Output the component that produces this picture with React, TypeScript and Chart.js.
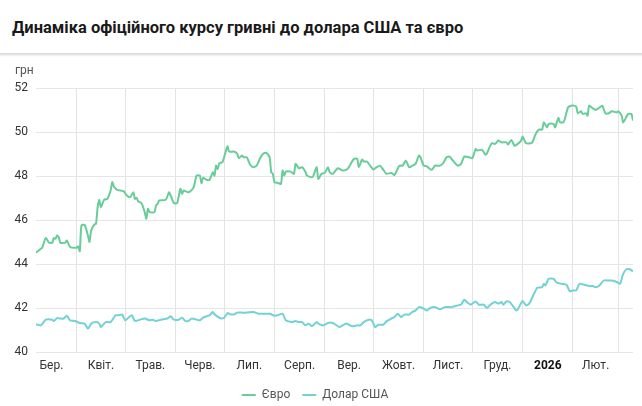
import React, { useEffect, useRef } from "react";
import Chart from "chart.js/auto";

// офіційний курс НБУ, грн за 1 одиницю валюти
const eurDates = [
  "2025-03-07", "2025-03-10", "2025-03-11", "2025-03-13", "2025-03-15", "2025-03-17", "2025-03-18", "2025-03-19",
  "2025-03-20", "2025-03-21", "2025-03-22", "2025-03-25", "2025-03-26", "2025-03-28", "2025-04-01", "2025-04-02",
  "2025-04-03", "2025-04-04", "2025-04-06", "2025-04-08", "2025-04-09", "2025-04-10", "2025-04-12", "2025-04-13",
  "2025-04-14", "2025-04-15", "2025-04-16", "2025-04-18", "2025-04-20", "2025-04-22", "2025-04-23", "2025-04-24",
  "2025-04-26", "2025-04-30", "2025-05-02", "2025-05-04", "2025-05-06", "2025-05-07", "2025-05-08", "2025-05-09",
  "2025-05-11", "2025-05-13", "2025-05-14", "2025-05-15", "2025-05-16", "2025-05-19", "2025-05-20", "2025-05-21",
  "2025-05-22", "2025-05-26", "2025-05-28", "2025-05-29", "2025-05-31", "2025-06-02", "2025-06-04", "2025-06-05",
  "2025-06-06", "2025-06-09", "2025-06-12", "2025-06-14", "2025-06-16", "2025-06-17", "2025-06-18", "2025-06-20",
  "2025-06-22", "2025-06-24", "2025-06-25", "2025-06-26", "2025-06-27", "2025-06-28", "2025-06-30", "2025-07-03",
  "2025-07-04", "2025-07-07", "2025-07-09", "2025-07-10", "2025-07-12", "2025-07-13", "2025-07-15", "2025-07-17",
  "2025-07-19", "2025-07-21", "2025-07-23", "2025-07-25", "2025-07-27", "2025-07-29", "2025-07-30", "2025-07-31",
  "2025-08-01", "2025-08-03", "2025-08-05", "2025-08-06", "2025-08-07", "2025-08-08", "2025-08-11", "2025-08-13",
  "2025-08-14", "2025-08-16", "2025-08-18", "2025-08-20", "2025-08-21", "2025-08-24", "2025-08-25", "2025-08-27",
  "2025-08-28", "2025-08-30", "2025-09-01", "2025-09-03", "2025-09-04", "2025-09-06", "2025-09-09", "2025-09-12",
  "2025-09-15", "2025-09-17", "2025-09-19", "2025-09-21", "2025-09-22", "2025-09-24", "2025-09-25", "2025-09-27",
  "2025-09-29", "2025-10-01", "2025-10-03", "2025-10-05", "2025-10-07", "2025-10-09", "2025-10-12", "2025-10-14",
  "2025-10-17", "2025-10-19", "2025-10-21", "2025-10-23", "2025-10-25", "2025-10-27", "2025-10-29", "2025-10-30",
  "2025-11-01", "2025-11-03", "2025-11-04", "2025-11-06", "2025-11-08", "2025-11-11", "2025-11-13", "2025-11-15",
  "2025-11-17", "2025-11-19", "2025-11-22", "2025-11-24", "2025-11-26", "2025-11-29", "2025-12-01", "2025-12-03",
  "2025-12-04", "2025-12-07", "2025-12-09", "2025-12-10", "2025-12-12", "2025-12-13", "2025-12-15", "2025-12-17",
  "2025-12-19", "2025-12-22", "2025-12-23", "2025-12-25", "2025-12-27", "2025-12-29", "2025-12-31", "2026-01-01",
  "2026-01-03", "2026-01-06", "2026-01-07", "2026-01-09", "2026-01-11", "2026-01-13", "2026-01-14", "2026-01-16",
  "2026-01-17", "2026-01-20", "2026-01-21", "2026-01-23", "2026-01-24", "2026-01-26", "2026-01-27", "2026-01-29",
  "2026-02-01", "2026-02-03", "2026-02-04", "2026-02-06", "2026-02-07", "2026-02-09", "2026-02-10", "2026-02-11",
  "2026-02-13", "2026-02-15", "2026-02-17", "2026-02-19", "2026-02-21", "2026-02-23", "2026-02-25", "2026-02-28",
  "2026-03-01", "2026-03-03", "2026-03-04", "2026-03-07", "2026-03-09", "2026-03-10",
];
const eurValues = [
  44.51, 44.69, 44.77, 45.18, 44.97, 44.97, 45.18, 45.15,
  45.3, 45.22, 44.97, 44.97, 45.07, 44.77, 44.74, 44.8,
  44.58, 45.75, 45.78, 45.3, 45.0, 45.52, 45.8, 45.83,
  46.58, 46.92, 46.58, 46.92, 46.96, 47.34, 47.72, 47.52,
  47.37, 47.31, 47.11, 47.04, 47.26, 46.96, 47.01, 46.85,
  46.77, 46.36, 46.06, 46.51, 46.36, 46.36, 46.66, 46.74,
  46.89, 46.92, 47.26, 47.11, 46.77, 46.77, 47.42, 47.19,
  47.34, 47.26, 47.46, 48.02, 48.02, 47.67, 47.92, 47.83,
  47.83, 48.17, 48.02, 48.47, 48.32, 48.58, 48.63, 49.35,
  49.11, 49.11, 49.01, 48.81, 48.93, 48.85, 48.85, 48.51,
  48.4, 48.47, 48.78, 49.01, 49.05, 48.85, 48.17, 48.1,
  47.72, 47.69, 47.64, 48.25, 48.02, 48.2, 48.2, 48.1,
  48.55, 48.35, 48.4, 48.2, 48.02, 47.94, 48.02, 48.4,
  47.87, 48.1, 48.14, 48.4, 48.17, 48.1, 48.35, 48.25,
  48.32, 48.55, 48.78, 48.78, 48.4, 48.75, 48.66, 48.66,
  48.47, 48.29, 48.4, 48.47, 48.29, 48.1, 48.14, 48.05,
  48.47, 48.47, 48.7, 48.4, 48.47, 48.55, 48.93, 48.85,
  48.47, 48.44, 48.37, 48.28, 48.47, 48.47, 48.58, 48.85,
  48.88, 48.7, 48.47, 48.55, 48.88, 48.85, 48.81, 49.23,
  49.16, 49.19, 48.97, 49.03, 49.38, 49.49, 49.46, 49.61,
  49.53, 49.53, 49.43, 49.64, 49.38, 49.46, 49.61, 49.79,
  49.49, 49.49, 49.53, 49.91, 50.11, 50.11, 50.44, 50.21,
  50.37, 50.37, 50.21, 50.64, 50.44, 50.44, 50.59, 51.12,
  51.2, 51.15, 50.85, 50.94, 50.82, 50.85, 50.74, 51.2,
  51.09, 51.0, 51.09, 51.2, 50.85, 50.85, 50.94, 50.89,
  50.94, 50.74, 50.44, 50.82, 50.82, 50.52,
];

const usdDates = [
  "2025-03-07", "2025-03-10", "2025-03-13", "2025-03-17", "2025-03-18", "2025-03-20", "2025-03-22", "2025-03-24",
  "2025-03-26", "2025-03-28", "2025-03-31", "2025-04-03", "2025-04-06", "2025-04-08", "2025-04-10", "2025-04-13",
  "2025-04-15", "2025-04-16", "2025-04-19", "2025-04-22", "2025-04-25", "2025-04-27", "2025-04-29", "2025-05-01",
  "2025-05-03", "2025-05-05", "2025-05-07", "2025-05-10", "2025-05-13", "2025-05-16", "2025-05-18", "2025-05-20",
  "2025-05-23", "2025-05-27", "2025-05-29", "2025-05-31", "2025-06-03", "2025-06-05", "2025-06-07", "2025-06-09",
  "2025-06-11", "2025-06-14", "2025-06-16", "2025-06-18", "2025-06-20", "2025-06-22", "2025-06-24", "2025-06-25",
  "2025-06-29", "2025-07-01", "2025-07-03", "2025-07-05", "2025-07-07", "2025-07-09", "2025-07-12", "2025-07-15",
  "2025-07-19", "2025-07-22", "2025-07-25", "2025-07-29", "2025-08-01", "2025-08-03", "2025-08-06", "2025-08-08",
  "2025-08-12", "2025-08-14", "2025-08-16", "2025-08-18", "2025-08-20", "2025-08-22", "2025-08-24", "2025-08-27",
  "2025-08-28", "2025-08-31", "2025-09-03", "2025-09-06", "2025-09-10", "2025-09-14", "2025-09-16", "2025-09-18",
  "2025-09-21", "2025-09-23", "2025-09-25", "2025-09-28", "2025-09-30", "2025-10-02", "2025-10-04", "2025-10-07",
  "2025-10-09", "2025-10-12", "2025-10-14", "2025-10-16", "2025-10-18", "2025-10-20", "2025-10-23", "2025-10-25",
  "2025-10-27", "2025-10-29", "2025-11-01", "2025-11-03", "2025-11-05", "2025-11-08", "2025-11-11", "2025-11-14",
  "2025-11-18", "2025-11-22", "2025-11-24", "2025-11-25", "2025-11-26", "2025-11-28", "2025-11-30", "2025-12-03",
  "2025-12-05", "2025-12-08", "2025-12-10", "2025-12-12", "2025-12-15", "2025-12-17", "2025-12-19", "2025-12-20",
  "2025-12-22", "2025-12-24", "2025-12-26", "2025-12-28", "2025-12-29", "2026-01-01", "2026-01-03", "2026-01-05",
  "2026-01-08", "2026-01-10", "2026-01-13", "2026-01-14", "2026-01-15", "2026-01-17", "2026-01-20", "2026-01-22",
  "2026-01-25", "2026-01-28", "2026-01-30", "2026-02-01", "2026-02-03", "2026-02-05", "2026-02-08", "2026-02-11",
  "2026-02-13", "2026-02-15", "2026-02-17", "2026-02-20", "2026-02-23", "2026-02-25", "2026-02-28", "2026-03-02",
  "2026-03-04", "2026-03-06", "2026-03-08", "2026-03-10",
];
const usdValues = [
  41.26, 41.21, 41.47, 41.47, 41.41, 41.54, 41.52, 41.52,
  41.65, 41.44, 41.41, 41.32, 41.29, 41.06, 41.29, 41.36,
  41.29, 41.13, 41.36, 41.36, 41.67, 41.67, 41.71, 41.44,
  41.56, 41.67, 41.41, 41.47, 41.52, 41.44, 41.47, 41.41,
  41.47, 41.52, 41.62, 41.47, 41.47, 41.56, 41.41, 41.41,
  41.52, 41.47, 41.44, 41.56, 41.62, 41.67, 41.82, 41.71,
  41.52, 41.56, 41.77, 41.71, 41.71, 41.79, 41.79, 41.79,
  41.82, 41.74, 41.74, 41.74, 41.65, 41.67, 41.74, 41.44,
  41.36, 41.41, 41.36, 41.36, 41.21, 41.29, 41.18, 41.36,
  41.29, 41.21, 41.32, 41.32, 41.13, 41.29, 41.24, 41.17,
  41.21, 41.21, 41.36, 41.47, 41.44, 41.13, 41.24, 41.24,
  41.39, 41.52, 41.59, 41.74, 41.59, 41.7, 41.7, 41.82,
  41.89, 42.04, 41.97, 41.89, 42.0, 42.04, 41.94, 42.04,
  42.04, 42.12, 42.15, 42.27, 42.38, 42.24, 42.15, 42.3,
  42.15, 42.15, 42.0, 42.15, 42.27, 42.2, 42.27, 42.15,
  42.3, 42.27, 42.09, 41.89, 41.94, 42.32, 42.12, 42.2,
  42.65, 42.92, 42.95, 43.1, 43.03, 43.33, 43.33, 43.15,
  43.1, 43.06, 42.76, 42.8, 42.8, 43.1, 43.06, 43.0,
  43.0, 42.95, 43.0, 43.25, 43.25, 43.25, 43.18, 43.1,
  43.56, 43.76, 43.76, 43.66,
];

const rangeStart = "2025-03-07";
const rangeEnd = "2026-03-10";
const monthStarts = [
  "2025-03-01", "2025-04-01", "2025-05-01", "2025-06-01", "2025-07-01", "2025-08-01", "2025-09-01",
  "2025-10-01", "2025-11-01", "2025-12-01", "2026-01-01", "2026-02-01", "2026-03-01",
];
const monthLabels = ["Бер.", "Квіт.", "Трав.", "Черв.", "Лип.", "Серп.", "Вер.", "Жовт.", "Лист.", "Груд.", "2026", "Лют."];
const yTicks = [40, 42, 44, 46, 48, 50, 52];

const EUR_COLOR = "#68cd98";
const USD_COLOR = "#72d2d4";
const FONT = "Roboto, 'Noto Sans', sans-serif";

const toDay = (s: string) => {
  const [y, m, d] = s.split("-").map(Number);
  return Date.UTC(y, m - 1, d) / 86400000;
};

const minDay = toDay(rangeStart);
const maxDay = toDay(rangeEnd);

// month boundaries get a grid line, the middle of each month gets the label
const gridDays = monthStarts.map(toDay).filter((d) => d > minDay && d < maxDay);
const labelByDay = new Map<number, string>();
monthLabels.forEach((label, i) => {
  const mid = (toDay(monthStarts[i]) + toDay(monthStarts[i + 1])) / 2;
  labelByDay.set(mid, label);
});
const xTicks = [...gridDays, ...labelByDay.keys()].sort((a, b) => a - b);

const unitLabel = {
  id: "unitLabel",
  afterDraw(chart: any) {
    const { ctx, chartArea } = chart;
    ctx.save();
    ctx.font = `12px ${FONT}`;
    ctx.fillStyle = "#555";
    ctx.textBaseline = "middle";
    ctx.textAlign = "left";
    ctx.fillText("грн", 15, chartArea.top - 17);
    ctx.restore();
  },
};

function RateChart() {
  const canvasRef = useRef<HTMLCanvasElement>(null);

  useEffect(() => {
    const chart = new Chart(canvasRef.current!, {
      type: "line",
      data: {
        datasets: [
          {
            label: "Євро",
            data: eurDates.map((d, i) => ({ x: toDay(d), y: eurValues[i] })),
            borderColor: EUR_COLOR,
            backgroundColor: EUR_COLOR,
            borderWidth: 2,
            pointRadius: 0,
            tension: 0.2,
          },
          {
            label: "Долар США",
            data: usdDates.map((d, i) => ({ x: toDay(d), y: usdValues[i] })),
            borderColor: USD_COLOR,
            backgroundColor: USD_COLOR,
            borderWidth: 2,
            pointRadius: 0,
            tension: 0.2,
          },
        ],
      },
      options: {
        animation: false,
        responsive: true,
        maintainAspectRatio: false,
        layout: { padding: { left: -3, right: 9, top: 32, bottom: -5 } },
        scales: {
          x: {
            type: "linear",
            min: minDay,
            max: maxDay,
            afterBuildTicks: (scale: any) => {
              scale.ticks = xTicks.map((v) => ({ value: v }));
            },
            afterFit: (scale: any) => {
              scale.height = 25;
            },
            border: { display: false },
            grid: {
              drawTicks: false,
              color: (ctx: any) => (ctx.tick && labelByDay.has(ctx.tick.value) ? "rgba(0,0,0,0)" : "#e3e3e3"),
            },
            ticks: {
              autoSkip: false,
              maxRotation: 0,
              padding: 7,
              color: (ctx: any) => (ctx.tick && labelByDay.get(ctx.tick.value) === "2026" ? "#111" : "#333"),
              font: (ctx: any) => ({
                family: FONT,
                size: 12,
                weight: ctx.tick && labelByDay.get(ctx.tick.value) === "2026" ? "bold" : "normal",
              }),
              callback: (value: any) => labelByDay.get(value) ?? "",
            },
          },
          y: {
            min: 40,
            max: 52,
            afterBuildTicks: (scale: any) => {
              scale.ticks = yTicks.map((v) => ({ value: v }));
            },
            afterFit: (scale: any) => {
              scale.width = 39;
            },
            border: { display: false },
            grid: { drawTicks: false, color: "#e6e6e6" },
            ticks: {
              padding: 8,
              color: "#333",
              font: { family: FONT, size: 12 },
            },
          },
        },
        plugins: {
          legend: {
            position: "bottom",
            labels: {
              usePointStyle: true,
              pointStyle: "line",
              pointStyleWidth: 14,
              padding: 12,
              color: "#555",
              font: { family: FONT, size: 12 },
            },
          },
          tooltip: { enabled: false },
        },
      },
      plugins: [unitLabel],
    } as any);

    return () => {
      chart.destroy();
    };
  }, []);

  return <canvas ref={canvasRef} />;
}

export default function App() {
  useEffect(() => {
    document.body.style.margin = "0";
  }, []);

  return (
    <div style={{ position: "relative", width: 642, height: 406, background: "#fff", overflow: "hidden", fontFamily: FONT }}>
      <div
        style={{
          position: "absolute",
          left: 12,
          top: 18,
          fontSize: 16.5,
          lineHeight: "20px",
          fontWeight: 700,
          color: "#1a1a1a",
          whiteSpace: "nowrap",
        }}
      >
        Динаміка офіційного курсу гривні до долара США та євро
      </div>
      <div
        style={{
          position: "absolute",
          left: 0,
          top: 53,
          width: 642,
          height: 4,
          background: "linear-gradient(#d6d6d6, rgba(255,255,255,0))",
        }}
      />
      <div style={{ position: "absolute", left: 0, top: 56, width: 642, height: 350 }}>
        <RateChart />
      </div>
    </div>
  );
}
